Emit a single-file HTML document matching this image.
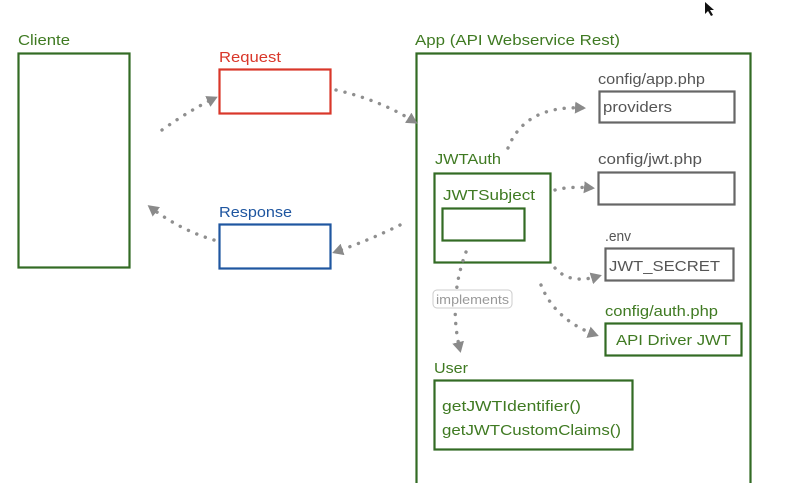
<!DOCTYPE html>
<html><head><meta charset="utf-8"><style>
html,body{margin:0;padding:0;background:#fff;width:791px;height:483px;overflow:hidden}
svg{display:block}
text{font-family:"Liberation Sans",sans-serif;font-size:15px}
</style></head><body>
<svg width="791" height="483" viewBox="0 0 791 483" xmlns="http://www.w3.org/2000/svg">
<defs>
<marker id="ah" markerWidth="12" markerHeight="12" refX="8" refY="6" orient="auto" markerUnits="userSpaceOnUse">
<path d="M0,0 L11,6 L0,12 Z" fill="#8a8a8a"/>
</marker>
</defs>
<g fill="none" stroke-width="2.2">
<rect x="18.5" y="53.5" width="111" height="214" stroke="#336b24"/>
<rect x="219.5" y="69.5" width="111" height="44" stroke="#d9372a"/>
<rect x="219.5" y="224.5" width="111" height="44" stroke="#1f56a0"/>
<path d="M416.5 490 V53.5 H750.5 V490" stroke="#336b24"/>
<rect x="599.5" y="91.5" width="135" height="31" stroke="#666"/>
<rect x="598.5" y="172.5" width="136" height="32" stroke="#666"/>
<rect x="605.5" y="248.5" width="128" height="32" stroke="#666"/>
<rect x="605.5" y="323.5" width="136" height="32" stroke="#336b24"/>
<rect x="434.5" y="173.5" width="116" height="89" stroke="#336b24"/>
<rect x="442.5" y="208.5" width="82" height="32" stroke="#336b24"/>
<rect x="434.5" y="380.5" width="198" height="69" stroke="#336b24"/>
</g>
<g fill="none" stroke="#8f8f8f" stroke-width="3.4" stroke-linecap="round" stroke-dasharray="0.1 9" marker-end="url(#ah)">
<path d="M162 130 Q190 110 215 98"/>
<path d="M336 90 Q380 100 415 122"/>
<path d="M214 240 Q180 230 150 207"/>
<path d="M400 225 Q370 240 335 252"/>
<path d="M508 148 Q525 105 583 108"/>
<path d="M555 190 Q570 186 592 188"/>
<path d="M555 268 Q570 285 599 276"/>
<path d="M541 285 Q555 320 596 335"/>
<path d="M466 252 Q448 300 460 350"/>
</g>
<rect x="433" y="290" width="79" height="18" rx="4" fill="#fff" stroke="#ccc"/>
<text x="436" y="304" fill="#999" style="font-size:12.5px" textLength="73" lengthAdjust="spacingAndGlyphs">implements</text>
<g fill="#3f7a22">
<text x="18" y="45" textLength="52" lengthAdjust="spacingAndGlyphs">Cliente</text>
<text x="415" y="45" textLength="205" lengthAdjust="spacingAndGlyphs">App (API Webservice Rest)</text>
<text x="435" y="164" textLength="66" lengthAdjust="spacingAndGlyphs">JWTAuth</text>
<text x="443" y="200" textLength="92" lengthAdjust="spacingAndGlyphs">JWTSubject</text>
<text x="605" y="316" textLength="113" lengthAdjust="spacingAndGlyphs">config/auth.php</text>
<text x="616" y="345" textLength="115" lengthAdjust="spacingAndGlyphs">API Driver JWT</text>
<text x="434" y="373" textLength="34" lengthAdjust="spacingAndGlyphs">User</text>
<text x="442" y="411" textLength="139" lengthAdjust="spacingAndGlyphs">getJWTIdentifier()</text>
<text x="442" y="435" textLength="179" lengthAdjust="spacingAndGlyphs">getJWTCustomClaims()</text>
</g>
<text x="219" y="62" fill="#d9372a" textLength="62" lengthAdjust="spacingAndGlyphs">Request</text>
<text x="219" y="217" fill="#1f56a0" textLength="73" lengthAdjust="spacingAndGlyphs">Response</text>
<g fill="#555">
<text x="598" y="84" textLength="107" lengthAdjust="spacingAndGlyphs">config/app.php</text>
<text x="603" y="112" textLength="69" lengthAdjust="spacingAndGlyphs">providers</text>
<text x="598" y="164" textLength="104" lengthAdjust="spacingAndGlyphs">config/jwt.php</text>
<text x="605" y="241" textLength="26" lengthAdjust="spacingAndGlyphs">.env</text>
<text x="609" y="271" textLength="111" lengthAdjust="spacingAndGlyphs">JWT_SECRET</text>
</g>
<path d="M705 2 L705 14 L708 11 L711 16 L713 15 L710 10 L714 10 Z" fill="#111"/>
</svg>
</body></html>
